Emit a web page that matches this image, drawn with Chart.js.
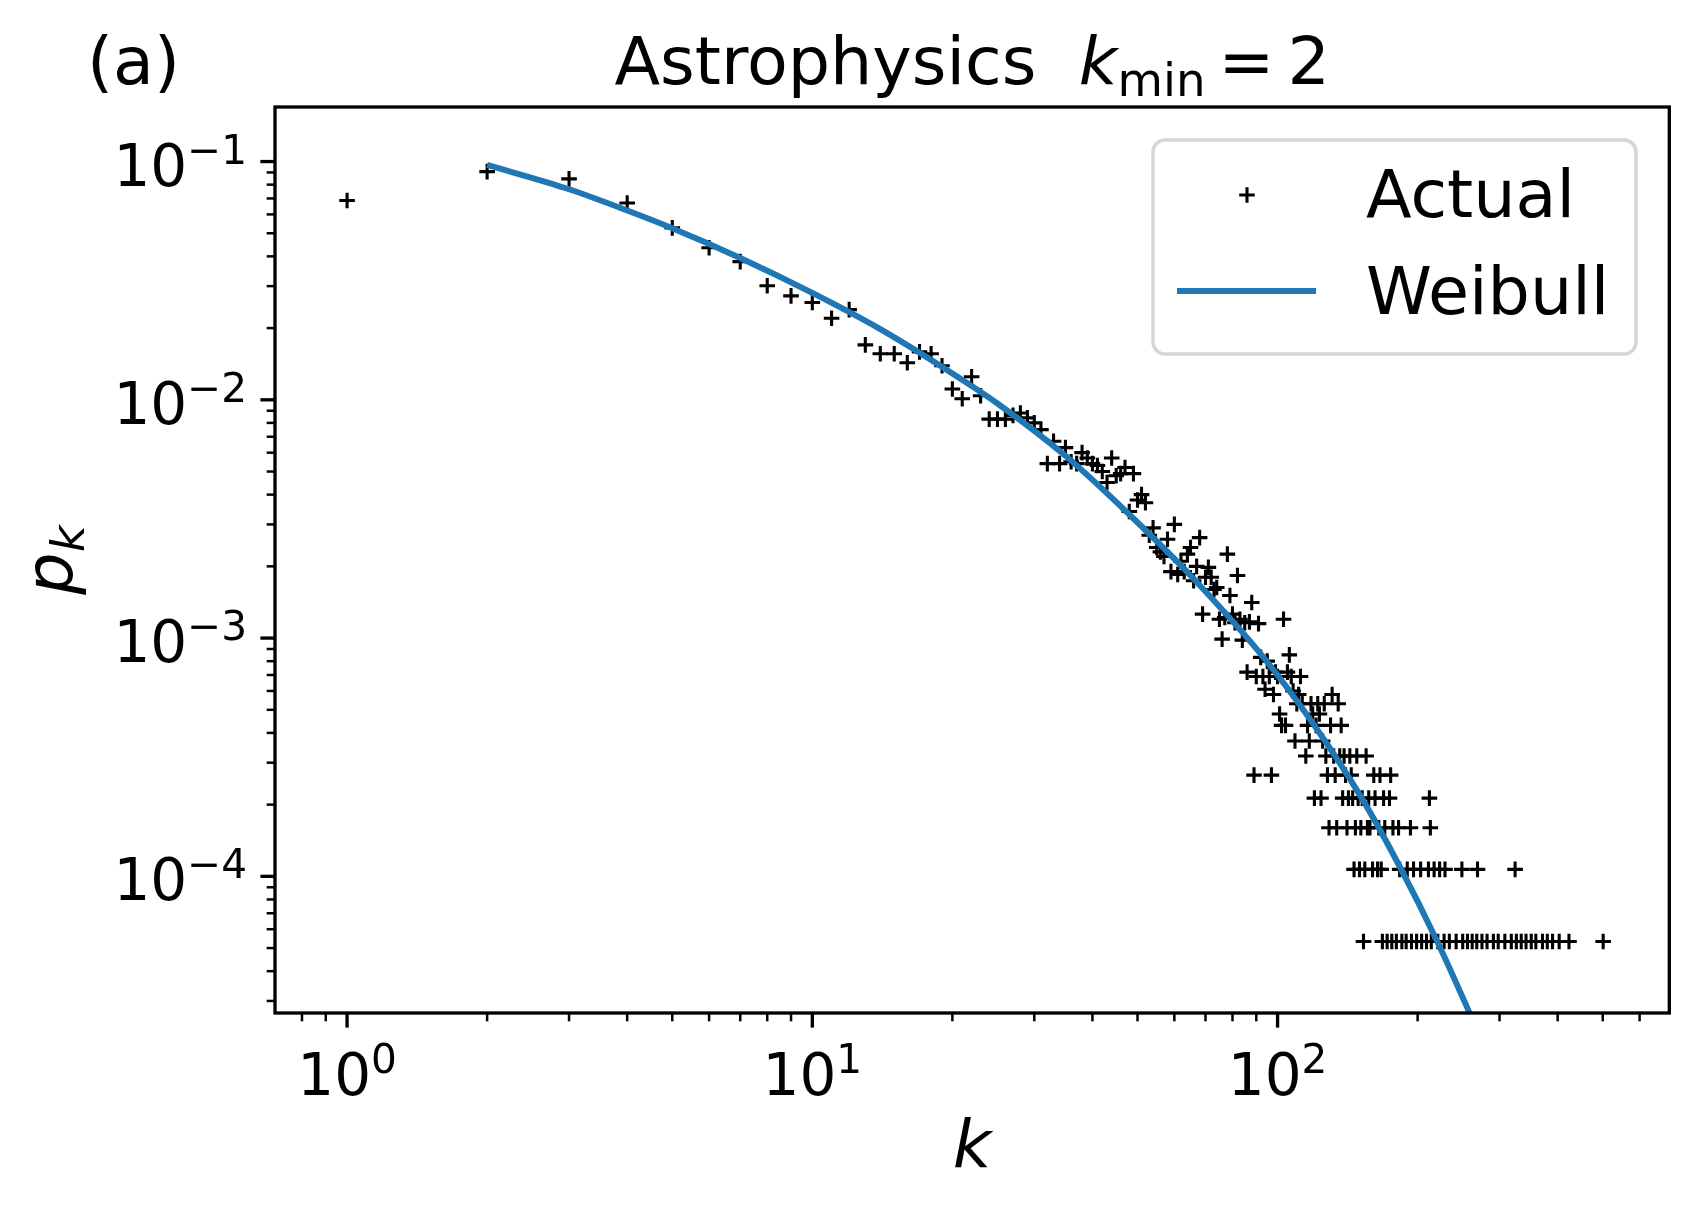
<!DOCTYPE html>
<html>
<head>
<meta charset="utf-8">
<script src="https://cdn.jsdelivr.net/npm/chart.js@4.4.1/dist/chart.umd.min.js"></script>
<style>
  html, body { margin: 0; padding: 0; background: #ffffff; }
  canvas { display: block; }
</style>
</head>
<body>
<canvas id="pkChart" width="1699" height="1211"></canvas>
<script>
const degreeK = [
  1, 2, 3, 4, 5, 6, 7, 8, 9, 10,
  11, 12, 13, 14, 15, 16, 17, 18, 19, 20,
  21, 22, 23, 24, 25, 26, 27, 28, 29, 30,
  31, 32, 33, 34, 35, 36, 37, 38, 39, 40,
  41, 42, 43, 44, 45, 46, 47, 48, 49, 50,
  51, 52, 53, 54, 55, 56, 57, 58, 59, 60,
  61, 62, 63, 64, 65, 66, 67, 68, 69, 70,
  71, 72, 73, 74, 75, 76, 77, 78, 79, 80,
  81, 82, 83, 84, 85, 86, 87, 88, 89, 90,
  91, 92, 93, 94, 95, 96, 97, 98, 99, 100,
  101, 102, 103, 104, 105, 106, 107, 108, 109, 110,
  111, 112, 113, 115, 116, 117, 118, 119, 120, 121,
  122, 123, 124, 125, 126, 127, 128, 129, 130, 131,
  132, 133, 134, 135, 136, 137, 138, 139, 140, 141,
  142, 143, 144, 145, 146, 147, 148, 149, 150, 151,
  152, 153, 154, 155, 156, 157, 158, 160, 161, 162,
  164, 165, 166, 167, 168, 169, 170, 172, 174, 175,
  176, 177, 180, 182, 183, 185, 189, 190, 193, 194,
  196, 199, 203, 204, 209, 211, 212, 213, 214, 217,
  221, 223, 228, 229, 234, 242, 249, 250, 256, 262,
  268, 269, 275, 282, 291, 298, 308, 318, 324, 326,
  334, 342, 351, 359, 371, 380, 390, 403, 423, 501
];

// measured p_k for each degree above
const actualPk = [
  0.0686, 0.0907, 0.0846, 0.0670, 0.0527, 0.0435, 0.0380, 0.0301, 0.0273, 0.0256,
  0.0220, 0.0239, 0.0170, 0.0156, 0.0156, 0.0143, 0.0159, 0.0156, 0.0139, 0.0111,
  0.0101, 0.0125, 0.0104, 0.0083, 0.0083, 0.0083, 0.0086, 0.0088, 0.0084, 0.0080,
  0.0075, 0.0054, 0.0067, 0.0054, 0.0063, 0.0055, 0.0054, 0.0060, 0.0057, 0.0054,
  0.0053, 0.0050, 0.0045, 0.0057, 0.0048, 0.0049, 0.0052, 0.0034, 0.0049, 0.0038,
  0.0040, 0.0037, 0.0027, 0.0029, 0.0024, 0.0023, 0.0022, 0.0026, 0.0019, 0.0030,
  0.00185, 0.0021, 0.0019, 0.00225, 0.0024, 0.00174, 0.0020, 0.00264, 0.00126, 0.0018,
  0.00198, 0.0018, 0.0016, 0.00163, 0.0012, 0.00099, 0.00122, 0.00225, 0.00151, 0.00126,
  0.00116, 0.00183, 0.0012, 0.00098, 0.00116, 0.00072, 0.00117, 0.00141, 2.66e-4, 0.00069,
  0.00115, 0.00083, 0.00069, 0.00061, 0.0008, 0.00069, 2.66e-4, 0.00058, 0.00072, 0.00069,
  0.00048, 0.00043, 0.0012, 0.00043, 0.00072, 0.00085, 0.00069, 0.00060, 0.00037, 0.00053,
  0.00058, 0.00069, 0.00053, 0.00032, 0.00043, 0.00037, 0.00053, 0.00048, 2.13e-4, 0.00043,
  0.00053, 0.00048, 2.13e-4, 0.00037, 0.00053, 0.00032, 2.66e-4, 1.6e-4, 0.00043, 0.00058,
  0.00032, 2.66e-4, 1.6e-4, 0.00053, 0.00032, 0.00043, 2.13e-4, 0.00032, 2.66e-4, 1.6e-4,
  2.13e-4, 0.00032, 2.66e-4, 2.13e-4, 1.07e-4, 1.6e-4, 0.00032, 2.13e-4, 1.07e-4, 1.6e-4,
  2.13e-4, 5.33e-5, 1.07e-4, 0.00032, 1.6e-4, 2.13e-4, 1.6e-4, 1.07e-4, 2.66e-4, 2.13e-4,
  1.07e-4, 1.6e-4, 2.66e-4, 1.07e-4, 5.33e-5, 2.13e-4, 1.6e-4, 5.33e-5, 2.13e-4, 2.66e-4,
  5.33e-5, 1.6e-4, 5.33e-5, 1.6e-4, 1.07e-4, 5.33e-5, 5.33e-5, 1.07e-4, 1.6e-4, 5.33e-5,
  1.07e-4, 5.33e-5, 1.07e-4, 5.33e-5, 5.33e-5, 1.07e-4, 2.13e-4, 1.6e-4, 5.33e-5, 1.07e-4,
  5.33e-5, 1.07e-4, 5.33e-5, 1.07e-4, 5.33e-5, 5.33e-5, 1.07e-4, 5.33e-5, 5.33e-5, 5.33e-5,
  5.33e-5, 1.07e-4, 5.33e-5, 5.33e-5, 5.33e-5, 5.33e-5, 5.33e-5, 5.33e-5, 1.07e-4, 5.33e-5,
  5.33e-5, 5.33e-5, 5.33e-5, 5.33e-5, 5.33e-5, 5.33e-5, 5.33e-5, 5.33e-5, 5.33e-5, 5.33e-5
];

// fitted Weibull curve
const weibullK = [2, 3, 4, 5, 7, 10, 14, 20, 25, 35, 48, 67, 93, 120, 151, 183, 220, 258, 270];
const weibullPk = [0.0968, 0.0765, 0.0623, 0.0525, 0.0394, 0.0281, 0.0198, 0.0129, 0.00965, 0.00582,
  0.0033, 0.00172, 0.000836, 0.00043, 0.000216, 0.00011, 0.0000537, 0.000027, 0.000022];

// axis ticks
const xMajorTicks = [1, 10, 100];
const xTickExponents = ['0', '1', '2'];
const xMinorTicks = [0.8, 0.9, 2, 3, 4, 5, 6, 7, 8, 9, 20, 30, 40, 50, 60, 70, 80, 90, 200, 300, 400, 500, 600];
const yMajorTicks = [1e-1, 1e-2, 1e-3, 1e-4];
const yTickExponents = ['\u22121', '\u22122', '\u22123', '\u22124'];
const yMinorTicks = [
  3e-5, 4e-5, 5e-5, 6e-5, 7e-5, 8e-5, 9e-5,
  2e-4, 3e-4, 4e-4, 5e-4, 6e-4, 7e-4, 8e-4, 9e-4,
  2e-3, 3e-3, 4e-3, 5e-3, 6e-3, 7e-3, 8e-3, 9e-3,
  2e-2, 3e-2, 4e-2, 5e-2, 6e-2, 7e-2, 8e-2, 9e-2
];

const FONT = "'DejaVu Sans'";
const TICK_FS = 58;
const LABEL_FS = 66.7;
const BLUE = '#1f77b4';
const MARK_R = 7.8;
const MARK_W = 3.1;

// draw a run of text pieces [text, font, dy, extra gap after] one after another
function drawRich(ctx, parts, x, y, align) {
  let total = 0;
  const widths = parts.map(p => {
    ctx.font = p[1];
    const w = ctx.measureText(p[0]).width + (p[3] || 0);
    total += w;
    return w;
  });
  let cx = align === 'center' ? x - total / 2 : (align === 'right' ? x - total : x);
  parts.forEach((p, i) => {
    ctx.font = p[1];
    ctx.fillText(p[0], cx, y + p[2]);
    cx += widths[i];
  });
}

function powerLabel(exp) {
  return [
    ['10', TICK_FS + 'px ' + FONT, 0],
    [exp, (TICK_FS * 0.7) + 'px ' + FONT, -22]
  ];
}

function drawCross(ctx, x, y) {
  ctx.beginPath();
  ctx.moveTo(x - MARK_R, y); ctx.lineTo(x + MARK_R, y);
  ctx.moveTo(x, y - MARK_R); ctx.lineTo(x, y + MARK_R);
  ctx.stroke();
}

const mplDecor = {
  id: 'mplDecor',
  afterDraw(chart) {
    const { ctx, chartArea: a } = chart;
    const xs = chart.scales.x, ys = chart.scales.y;
    ctx.save();
    ctx.fillStyle = '#000';
    ctx.strokeStyle = '#000';
    ctx.textBaseline = 'alphabetic';
    ctx.textAlign = 'left';

    // spines
    ctx.lineWidth = 3.33;
    ctx.strokeRect(a.left, a.top, a.right - a.left, a.bottom - a.top);

    // x ticks
    const xTick = (v, len, w) => {
      const px = xs.getPixelForValue(v);
      if (px < a.left - 1 || px > a.right + 1) return;
      ctx.lineWidth = w;
      ctx.beginPath(); ctx.moveTo(px, a.bottom); ctx.lineTo(px, a.bottom + len); ctx.stroke();
    };
    xMinorTicks.forEach(v => xTick(v, 8.3, 2.5));
    xMajorTicks.forEach(v => xTick(v, 14.6, 3.33));
    const yTick = (v, len, w) => {
      const py = ys.getPixelForValue(v);
      if (py < a.top - 1 || py > a.bottom + 1) return;
      ctx.lineWidth = w;
      ctx.beginPath(); ctx.moveTo(a.left, py); ctx.lineTo(a.left - len, py); ctx.stroke();
    };
    yMinorTicks.forEach(v => yTick(v, 8.3, 2.5));
    yMajorTicks.forEach(v => yTick(v, 14.6, 3.33));

    // tick labels
    xMajorTicks.forEach((v, i) => {
      drawRich(ctx, powerLabel(xTickExponents[i]), xs.getPixelForValue(v), a.bottom + 82, 'center');
    });
    yMajorTicks.forEach((v, i) => {
      drawRich(ctx, powerLabel(yTickExponents[i]), a.left - 28, ys.getPixelForValue(v) + 24, 'right');
    });

    const reg = LABEL_FS + 'px ' + FONT;
    const ita = 'italic ' + LABEL_FS + 'px ' + FONT;
    const subReg = (LABEL_FS * 0.7) + 'px ' + FONT;
    const subIta = 'italic ' + (LABEL_FS * 0.7) + 'px ' + FONT;
    const midX = (a.left + a.right) / 2;

    // axis labels
    drawRich(ctx, [['k', ita, 0]], midX, a.bottom + 154, 'center');
    ctx.save();
    ctx.translate(72, (a.top + a.bottom) / 2);
    ctx.rotate(-Math.PI / 2);
    drawRich(ctx, [['p', ita, 0], ['k', subIta, 12]], 0, 0, 'center');
    ctx.restore();

    // title and panel tag
    drawRich(ctx, [
      ['Astrophysics  ', reg, 0],
      ['k', ita, 0],
      ['min', subReg, 12, 13],
      ['=', reg, 0, 13],
      ['2', reg, 0]
    ], midX, 84, 'center');
    drawRich(ctx, [['(a)', reg, 0]], 87, 84, 'left');

    // legend
    const lx = 1153, ly = 140, lw = 1636 - 1153, lh = 354 - 140;
    ctx.beginPath();
    ctx.roundRect(lx, ly, lw, lh, 12);
    ctx.fillStyle = 'rgba(255,255,255,0.8)';
    ctx.fill();
    ctx.lineWidth = 3.5;
    ctx.strokeStyle = 'rgba(204,204,204,0.8)';
    ctx.stroke();

    const ds = chart.data.datasets;
    ctx.strokeStyle = ds[1].borderColor;
    ctx.lineWidth = MARK_W;
    drawCross(ctx, 1247, 195);
    ctx.strokeStyle = ds[0].borderColor;
    ctx.lineWidth = ds[0].borderWidth;
    ctx.beginPath(); ctx.moveTo(1177, 291); ctx.lineTo(1316, 291); ctx.stroke();
    ctx.fillStyle = '#000';
    drawRich(ctx, [[ds[1].label, reg, 0]], 1366, 217, 'left');
    drawRich(ctx, [[ds[0].label, reg, 0]], 1366, 314, 'left');
    ctx.restore();
  }
};

const ctx = document.getElementById('pkChart').getContext('2d');

window.pkChart = new Chart(ctx, {
  type: 'scatter',
  data: {
    datasets: [
      {
        label: 'Weibull',
        data: weibullK.map((k, i) => ({ x: k, y: weibullPk[i] })),
        showLine: true,
        borderColor: BLUE,
        borderWidth: 6,
        pointRadius: 0,
        cubicInterpolationMode: 'monotone',
        clip: 0,
        order: 0
      },
      {
        label: 'Actual',
        data: degreeK.map((k, i) => ({ x: k, y: actualPk[i] })),
        showLine: false,
        pointStyle: 'cross',
        pointRadius: MARK_R,
        borderColor: '#000000',
        backgroundColor: '#000000',
        borderWidth: MARK_W,
        clip: 0,
        order: 1
      }
    ]
  },
  options: {
    responsive: false,
    devicePixelRatio: 1,
    animation: false,
    events: [],
    layout: { padding: { left: 275, right: 29.7, top: 107, bottom: 198 } },
    plugins: {
      legend: { display: false },
      tooltip: { enabled: false }
    },
    scales: {
      x: { type: 'logarithmic', min: 0.7325, max: 695, display: false },
      y: { type: 'logarithmic', min: 2.67e-5, max: 0.1694, display: false }
    }
  },
  plugins: [mplDecor]
});
</script>
</body>
</html>
